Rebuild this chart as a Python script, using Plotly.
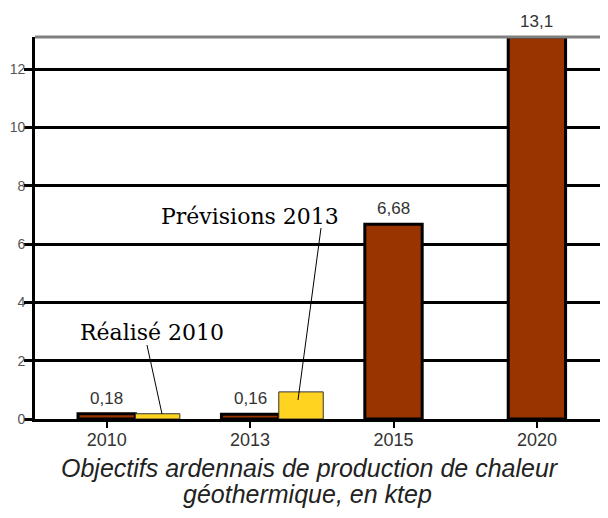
import plotly.graph_objects as go

# data (ktep)
years = ["2010", "2013", "2015", "2020"]
objectifs = [0.18, 0.16, 6.68, 13.1]
realise_years = ["2010", "2013"]
realise = [0.18, 0.93]
y_ticks = [0, 2, 4, 6, 8, 10, 12]

BROWN = "#993300"
YELLOW = "#FFD320"
SANS = "Liberation Sans, Arial, sans-serif"
SERIF = "DejaVu Serif, serif"

fig = go.Figure()

fig.add_trace(go.Bar(
    x=years, y=objectifs,
    width=0.4, offset=-0.2,
    marker=dict(color=BROWN, line=dict(color="black", width=3)),
    showlegend=False,
))
fig.add_trace(go.Bar(
    x=realise_years, y=realise,
    width=0.31, offset=0.2,
    marker=dict(color=YELLOW, line=dict(color="#333333", width=1)),
    showlegend=False,
))

# value labels above the brown bars, French decimal comma
# (category index used as x: numeric-looking strings are read as numbers)
for i, v in enumerate(objectifs):
    fig.add_annotation(
        x=i, y=v, text=f"{v:g}".replace(".", ","),
        showarrow=False, yanchor="bottom", yshift=4,
        font=dict(family=SANS, size=17, color="#333333"),
    )

# callouts with leader lines
fig.add_annotation(x=0.2071, y=0.2277, xref="paper", yref="paper",
                   xanchor="center", yanchor="middle",
                   text="Réalisé 2010", showarrow=False,
                   font=dict(family=SERIF, size=22, color="black"))
fig.add_annotation(x=0.3814, y=0.5314, xref="paper", yref="paper",
                   xanchor="center", yanchor="middle",
                   text="Prévisions 2013", showarrow=False,
                   font=dict(family=SERIF, size=22, color="black"))
fig.add_shape(type="line", xref="paper", yref="paper",
              x0=0.1982, y0=0.1937, x1=0.2248, y1=0.0131,
              line=dict(color="black", width=1))
fig.add_shape(type="line", xref="paper", yref="paper",
              x0=0.5062, y0=0.50, x1=0.4655, y1=0.0497,
              line=dict(color="black", width=1))

# grey top border
fig.add_shape(type="line", xref="paper", yref="paper",
              x0=0, y0=1, x1=1, y1=1,
              line=dict(color="#808080", width=3))

# caption under the chart, two lines
fig.add_annotation(
    x=0.4867, y=-0.127, xref="paper", yref="paper",
    xanchor="center", yanchor="middle",
    text="<i>Objectifs ardennais de production de chaleur</i>",
    showarrow=False, font=dict(family=SANS, size=25, color="#222222"),
)
fig.add_annotation(
    x=0.4823, y=-0.197, xref="paper", yref="paper",
    xanchor="center", yanchor="middle",
    text="<i>géothermique, en ktep</i>",
    showarrow=False, font=dict(family=SANS, size=25, color="#222222"),
)

fig.update_layout(
    barmode="overlay",
    plot_bgcolor="white",
    paper_bgcolor="white",
    margin=dict(l=27, r=0, t=29, b=91),
    xaxis=dict(
        type="category", categoryorder="array", categoryarray=years,
        range=[-0.5, 3.44], automargin=False,
        showline=True, linecolor="black", linewidth=3,
        ticks="outside", ticklen=6, tickwidth=2, tickcolor="black",
        showgrid=False, zeroline=False, ticklabelstandoff=-4,
        tickfont=dict(family=SANS, size=18, color="#333333"),
    ),
    yaxis=dict(
        range=[0, 13.1], tickvals=y_ticks, automargin=False,
        showline=True, linecolor="black", linewidth=3,
        ticks="outside", ticklen=8, tickwidth=3, tickcolor="black",
        showgrid=True, gridcolor="black", gridwidth=3,
        zeroline=False, ticklabelstandoff=-4,
        tickfont=dict(family=SANS, size=14, color="#555555"),
    ),
)

fig.write_html("out.html")
